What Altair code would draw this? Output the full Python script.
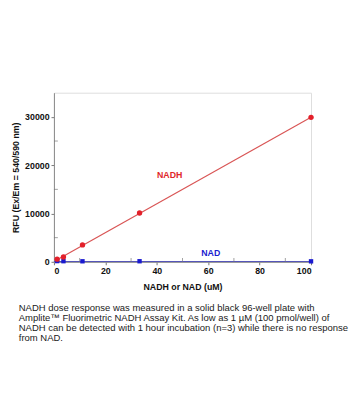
import altair as alt
import pandas as pd

# NADH standard curve (uM vs RFU)
nadh_x = [1.23, 3.7, 11.1, 33.3, 100]
nadh_y = [550, 1000, 3500, 10100, 29900]
# NAD (no response)
nad_x = [1.23, 3.7, 11.1, 33.3, 100]
nad_y = [150, 130, 110, 120, 100]
# linear fit lines
fit_nadh_x = [1.23, 100]
fit_nadh_y = [450, 29900]
fit_nad_x = [0, 100]
fit_nad_y = [60, 60]
# in-plot labels
lab_text = ["NADH", "NAD"]
lab_x = [45, 61]
lab_y = [17900, 1900]
lab_color = ["#e0262a", "#1a1ad0"]
# minor ticks
x_minor = [10, 30, 50, 70, 90]
y_minor = [5000, 15000, 25000]
# caption
caption = [
    "NADH dose response was measured in a solid black 96-well plate with",
    "Amplite\u2122 Fluorimetric NADH Assay Kit. As low as 1 \u00b5M (100 pmol/well) of",
    "NADH can be detected with 1 hour incubation (n=3) while there is no response",
    "from NAD.",
]

W, H = 263, 173
FONT = "Liberation Sans"

xs = alt.Scale(domain=[0, 100], nice=False)
ys = alt.Scale(domain=[0, 35000], nice=False)

xaxis = alt.Axis(values=[0, 20, 40, 60, 80, 100], title="NADH or NAD (uM)", format="d",
                 grid=False, labelFont=FONT, labelFontWeight="bold", labelFontSize=9,
                 labelColor="#111", titleFont=FONT, titleFontWeight="bold", titleFontSize=9,
                 titleColor="#111", tickSize=3, tickColor="#777", domainColor="#888",
                 labelPadding=2, titlePadding=7)
yaxis = alt.Axis(values=[0, 10000, 20000, 30000], title="RFU (Ex/Em = 540/590 nm)", format="d",
                 grid=False, labelFont=FONT, labelFontWeight="bold", labelFontSize=9,
                 labelColor="#111", titleFont=FONT, titleFontWeight="bold", titleFontSize=9,
                 titleColor="#111", tickSize=3, tickColor="#777", domainColor="#888",
                 labelPadding=2, titlePadding=4)

df_nadh = pd.DataFrame({"x": nadh_x, "y": nadh_y})
df_nad = pd.DataFrame({"x": nad_x, "y": nad_y})
df_fit1 = pd.DataFrame({"x": fit_nadh_x, "y": fit_nadh_y})
df_fit2 = pd.DataFrame({"x": fit_nad_x, "y": fit_nad_y})
df_lab = pd.DataFrame({"t": lab_text, "x": lab_x, "y": lab_y, "c": lab_color})
df_xm = pd.DataFrame({"x": x_minor})
df_ym = pd.DataFrame({"y": y_minor})

base_axes = alt.Chart(df_fit2).mark_line(color="#5555b8", strokeWidth=1.2).encode(
    x=alt.X("x:Q", scale=xs, axis=xaxis),
    y=alt.Y("y:Q", scale=ys, axis=yaxis),
)
fit1 = alt.Chart(df_fit1).mark_line(color="#d95555", strokeWidth=1.2).encode(
    x=alt.X("x:Q", scale=xs), y=alt.Y("y:Q", scale=ys))
pts1 = alt.Chart(df_nadh).mark_point(filled=True, shape="circle", size=30, color="#e3202a", opacity=1).encode(
    x=alt.X("x:Q", scale=xs), y=alt.Y("y:Q", scale=ys))
pts2 = alt.Chart(df_nad).mark_point(filled=True, shape="square", size=20, color="#1a1ad0", opacity=1).encode(
    x=alt.X("x:Q", scale=xs), y=alt.Y("y:Q", scale=ys))
labs = alt.Chart(df_lab).mark_text(font=FONT, fontWeight="bold", fontSize=9).encode(
    x=alt.X("x:Q", scale=xs), y=alt.Y("y:Q", scale=ys), text="t:N",
    color=alt.Color("c:N", scale=None))
xm = alt.Chart(df_xm).mark_tick(color="#777", size=4, thickness=1).encode(
    x=alt.X("x:Q", scale=xs), y=alt.value(H - 2))
ym = alt.Chart(df_ym).mark_tick(color="#777", size=4, thickness=1, orient="horizontal").encode(
    y=alt.Y("y:Q", scale=ys), x=alt.value(2))

chart = alt.layer(base_axes, fit1, xm, ym, pts2, pts1, labs).properties(
    width=W, height=H,
    autosize=alt.AutoSizeParams(type="none"),
    padding={"left": 47, "top": 82, "right": 46, "bottom": 150},
    title=alt.TitleParams(
        text=caption, orient="bottom", anchor="start", frame="group", dx=-36, offset=12,
        font=FONT, fontSize=9.7, fontWeight="normal", color="#1a1a1a",
        lineHeight=10.5, baseline="top",
    ),
).configure_view(stroke="#888", strokeWidth=1).configure(background="white")

chart.save("out.html", embed_options={"renderer": "svg", "actions": False})
